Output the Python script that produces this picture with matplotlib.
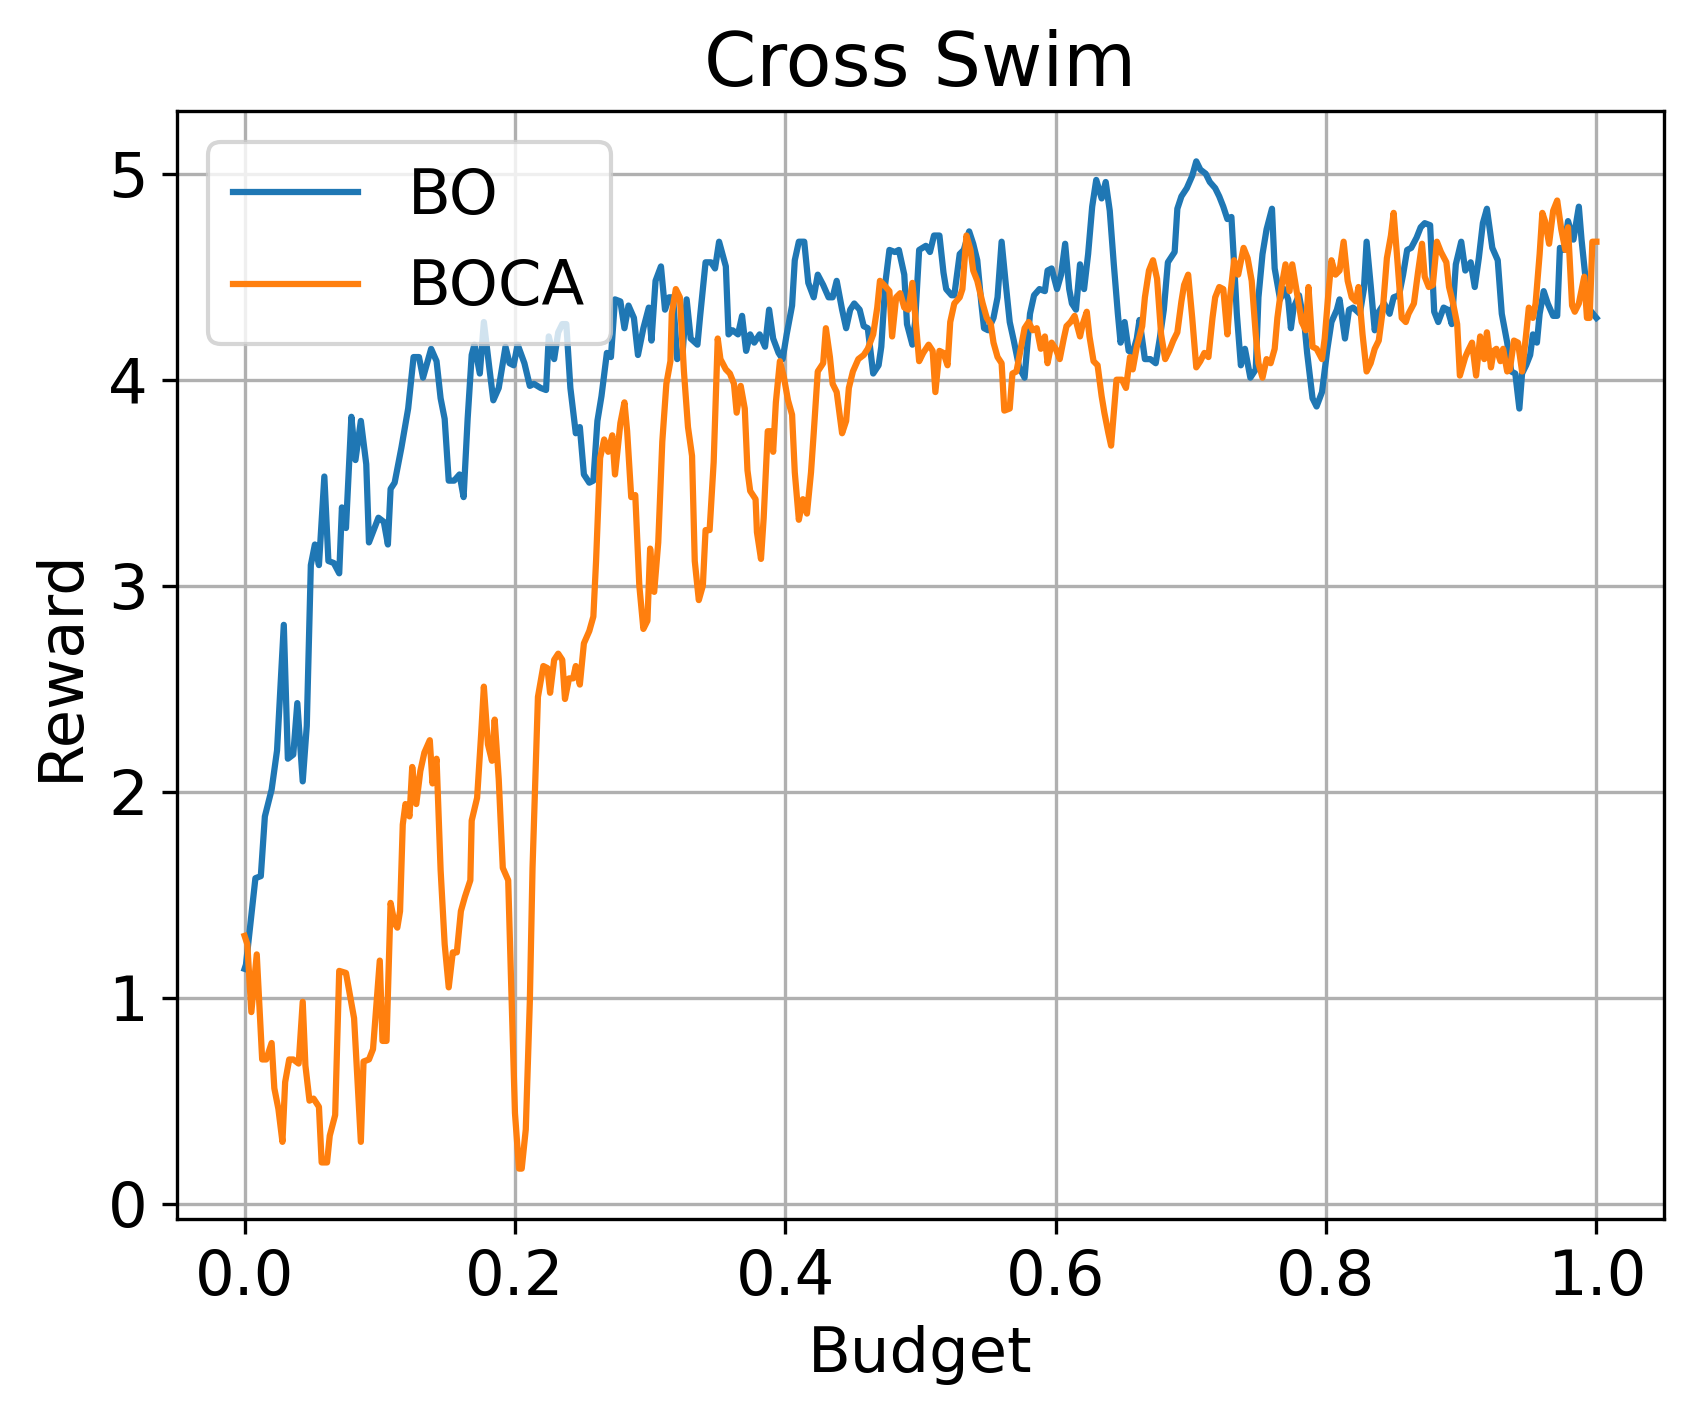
import matplotlib
matplotlib.use("Agg")
import matplotlib.pyplot as plt

plt.rcParams['font.size'] = 15

# BO curve (budget, reward)
bo_budget = [0.000, 0.001, 0.008, 0.012, 0.015, 0.020, 0.024, 0.029, 0.032, 0.036,
             0.039, 0.043, 0.046, 0.049, 0.052, 0.055, 0.059, 0.062, 0.066, 0.070,
             0.072, 0.075, 0.079, 0.082, 0.086, 0.090, 0.092, 0.099, 0.103, 0.106,
             0.108, 0.111, 0.116, 0.121, 0.125, 0.129, 0.132, 0.138, 0.142, 0.145,
             0.148, 0.151, 0.155, 0.159, 0.162, 0.165, 0.168, 0.170, 0.174, 0.177,
             0.181, 0.184, 0.188, 0.193, 0.196, 0.199, 0.202, 0.207, 0.211, 0.214,
             0.219, 0.223, 0.225, 0.229, 0.232, 0.235, 0.238, 0.241, 0.245, 0.248,
             0.251, 0.255, 0.258, 0.261, 0.264, 0.268, 0.271, 0.274, 0.278, 0.281,
             0.284, 0.288, 0.291, 0.295, 0.299, 0.301, 0.304, 0.308, 0.311, 0.314,
             0.317, 0.320, 0.324, 0.327, 0.330, 0.335, 0.337, 0.341, 0.345, 0.348,
             0.351, 0.356, 0.358, 0.361, 0.365, 0.368, 0.371, 0.374, 0.377, 0.381,
             0.385, 0.388, 0.391, 0.395, 0.398, 0.401, 0.405, 0.407, 0.410, 0.414,
             0.417, 0.421, 0.424, 0.428, 0.432, 0.435, 0.438, 0.442, 0.445, 0.448,
             0.451, 0.455, 0.458, 0.461, 0.465, 0.469, 0.471, 0.474, 0.477, 0.481,
             0.484, 0.488, 0.490, 0.494, 0.496, 0.499, 0.504, 0.507, 0.510, 0.514,
             0.517, 0.519, 0.523, 0.525, 0.529, 0.532, 0.536, 0.539, 0.542, 0.545,
             0.547, 0.550, 0.554, 0.557, 0.560, 0.563, 0.566, 0.569, 0.573, 0.577,
             0.581, 0.584, 0.588, 0.592, 0.594, 0.597, 0.601, 0.604, 0.607, 0.610,
             0.612, 0.615, 0.618, 0.621, 0.624, 0.627, 0.630, 0.634, 0.637, 0.640,
             0.643, 0.646, 0.648, 0.651, 0.654, 0.657, 0.660, 0.662, 0.666, 0.670,
             0.674, 0.677, 0.680, 0.683, 0.688, 0.690, 0.693, 0.697, 0.701, 0.704,
             0.707, 0.711, 0.714, 0.718, 0.721, 0.724, 0.727, 0.730, 0.732, 0.734,
             0.737, 0.740, 0.744, 0.748, 0.750, 0.753, 0.756, 0.760, 0.762, 0.766,
             0.769, 0.772, 0.774, 0.776, 0.780, 0.784, 0.786, 0.790, 0.793, 0.797,
             0.801, 0.804, 0.808, 0.810, 0.814, 0.817, 0.820, 0.825, 0.828, 0.830,
             0.833, 0.836, 0.839, 0.843, 0.847, 0.850, 0.854, 0.857, 0.860, 0.863,
             0.867, 0.870, 0.873, 0.877, 0.880, 0.883, 0.887, 0.890, 0.893, 0.896,
             0.900, 0.903, 0.907, 0.910, 0.913, 0.916, 0.919, 0.923, 0.927, 0.930,
             0.934, 0.937, 0.940, 0.943, 0.945, 0.948, 0.951, 0.953, 0.956, 0.958,
             0.961, 0.964, 0.968, 0.971, 0.973, 0.976, 0.979, 0.983, 0.987, 0.989,
             0.992, 0.995, 1.000]
bo_reward = [1.14, 1.16, 1.58, 1.59, 1.88, 2.01, 2.20, 2.81, 2.16, 2.18,
             2.43, 2.05, 2.32, 3.10, 3.20, 3.10, 3.53, 3.12, 3.11, 3.06,
             3.38, 3.28, 3.82, 3.61, 3.80, 3.59, 3.21, 3.33, 3.31, 3.20,
             3.47, 3.50, 3.67, 3.86, 4.11, 4.11, 4.01, 4.15, 4.09, 3.91,
             3.81, 3.51, 3.51, 3.54, 3.43, 3.81, 4.12, 4.17, 4.03, 4.28,
             4.06, 3.90, 3.96, 4.16, 4.08, 4.07, 4.17, 4.08, 3.97, 3.98,
             3.96, 3.95, 4.21, 4.10, 4.23, 4.27, 4.27, 3.96, 3.74, 3.77,
             3.54, 3.50, 3.51, 3.80, 3.92, 4.13, 4.11, 4.39, 4.38, 4.25,
             4.36, 4.30, 4.12, 4.25, 4.35, 4.19, 4.48, 4.55, 4.34, 4.40,
             4.40, 4.10, 4.13, 4.39, 4.20, 4.17, 4.31, 4.57, 4.57, 4.54,
             4.67, 4.55, 4.22, 4.24, 4.22, 4.31, 4.14, 4.22, 4.18, 4.22,
             4.16, 4.34, 4.20, 4.13, 4.10, 4.22, 4.36, 4.58, 4.67, 4.67,
             4.47, 4.40, 4.51, 4.46, 4.40, 4.40, 4.48, 4.34, 4.25, 4.34,
             4.37, 4.34, 4.26, 4.25, 4.03, 4.07, 4.16, 4.47, 4.63, 4.62,
             4.63, 4.51, 4.27, 4.17, 4.28, 4.63, 4.65, 4.62, 4.70, 4.70,
             4.52, 4.44, 4.41, 4.41, 4.61, 4.63, 4.72, 4.66, 4.58, 4.37,
             4.25, 4.24, 4.30, 4.40, 4.67, 4.47, 4.28, 4.19, 4.06, 4.01,
             4.32, 4.41, 4.44, 4.43, 4.53, 4.54, 4.44, 4.51, 4.66, 4.44,
             4.37, 4.34, 4.56, 4.44, 4.61, 4.84, 4.97, 4.88, 4.96, 4.82,
             4.56, 4.32, 4.18, 4.28, 4.14, 4.13, 4.20, 4.29, 4.10, 4.10,
             4.08, 4.20, 4.34, 4.57, 4.62, 4.83, 4.89, 4.93, 4.99, 5.06,
             5.02, 5.00, 4.96, 4.93, 4.89, 4.84, 4.78, 4.79, 4.56, 4.32,
             4.07, 4.15, 4.01, 4.05, 4.40, 4.61, 4.73, 4.83, 4.54, 4.39,
             4.44, 4.39, 4.25, 4.35, 4.41, 4.27, 4.13, 3.91, 3.87, 3.94,
             4.15, 4.28, 4.34, 4.39, 4.20, 4.34, 4.35, 4.32, 4.44, 4.67,
             4.46, 4.24, 4.33, 4.37, 4.32, 4.40, 4.41, 4.51, 4.63, 4.64,
             4.69, 4.74, 4.76, 4.75, 4.33, 4.28, 4.35, 4.34, 4.27, 4.56,
             4.67, 4.53, 4.57, 4.45, 4.59, 4.76, 4.83, 4.64, 4.58, 4.32,
             4.18, 4.04, 4.03, 3.86, 4.03, 4.07, 4.12, 4.22, 4.18, 4.32,
             4.43, 4.37, 4.31, 4.31, 4.64, 4.63, 4.77, 4.68, 4.84, 4.68,
             4.49, 4.34, 4.30]

# BOCA curve (budget, reward)
boca_budget = [0.000, 0.002, 0.005, 0.009, 0.013, 0.016, 0.020, 0.022, 0.025, 0.028,
               0.030, 0.033, 0.036, 0.040, 0.043, 0.045, 0.048, 0.051, 0.055, 0.057,
               0.061, 0.063, 0.067, 0.070, 0.075, 0.078, 0.081, 0.086, 0.088, 0.092,
               0.095, 0.100, 0.102, 0.105, 0.108, 0.111, 0.113, 0.115, 0.117, 0.119,
               0.122, 0.124, 0.127, 0.130, 0.133, 0.137, 0.139, 0.142, 0.145, 0.148,
               0.151, 0.154, 0.157, 0.160, 0.163, 0.167, 0.168, 0.172, 0.175, 0.177,
               0.180, 0.183, 0.185, 0.188, 0.191, 0.195, 0.197, 0.200, 0.203, 0.205,
               0.208, 0.211, 0.213, 0.217, 0.221, 0.224, 0.226, 0.229, 0.232, 0.235,
               0.237, 0.240, 0.243, 0.245, 0.248, 0.251, 0.255, 0.258, 0.260, 0.263,
               0.266, 0.269, 0.272, 0.274, 0.278, 0.281, 0.283, 0.286, 0.289, 0.292,
               0.295, 0.298, 0.300, 0.303, 0.306, 0.309, 0.312, 0.315, 0.316, 0.319,
               0.322, 0.325, 0.328, 0.331, 0.333, 0.336, 0.339, 0.341, 0.344, 0.347,
               0.350, 0.352, 0.356, 0.359, 0.362, 0.364, 0.367, 0.370, 0.372, 0.374,
               0.378, 0.379, 0.382, 0.384, 0.387, 0.389, 0.391, 0.393, 0.396, 0.399,
               0.402, 0.405, 0.407, 0.410, 0.413, 0.416, 0.419, 0.421, 0.424, 0.428,
               0.430, 0.433, 0.435, 0.438, 0.442, 0.445, 0.447, 0.450, 0.454, 0.458,
               0.461, 0.465, 0.468, 0.470, 0.473, 0.477, 0.479, 0.482, 0.485, 0.488,
               0.491, 0.494, 0.496, 0.499, 0.502, 0.506, 0.509, 0.511, 0.514, 0.517,
               0.520, 0.522, 0.525, 0.529, 0.531, 0.534, 0.537, 0.539, 0.542, 0.546,
               0.549, 0.552, 0.554, 0.557, 0.560, 0.562, 0.566, 0.568, 0.571, 0.575,
               0.577, 0.580, 0.583, 0.586, 0.589, 0.592, 0.594, 0.597, 0.600, 0.603,
               0.606, 0.608, 0.611, 0.614, 0.618, 0.620, 0.623, 0.625, 0.628, 0.631,
               0.634, 0.636, 0.639, 0.641, 0.643, 0.645, 0.649, 0.652, 0.655, 0.657,
               0.660, 0.664, 0.666, 0.669, 0.672, 0.675, 0.678, 0.681, 0.684, 0.687,
               0.690, 0.693, 0.695, 0.698, 0.701, 0.704, 0.707, 0.710, 0.713, 0.716,
               0.718, 0.721, 0.724, 0.727, 0.729, 0.732, 0.735, 0.739, 0.742, 0.745,
               0.748, 0.750, 0.753, 0.756, 0.759, 0.762, 0.764, 0.767, 0.770, 0.773,
               0.775, 0.779, 0.782, 0.785, 0.787, 0.790, 0.793, 0.797, 0.799, 0.802,
               0.804, 0.807, 0.810, 0.813, 0.816, 0.819, 0.822, 0.824, 0.827, 0.830,
               0.833, 0.836, 0.839, 0.842, 0.845, 0.848, 0.850, 0.853, 0.856, 0.859,
               0.861, 0.865, 0.868, 0.871, 0.873, 0.876, 0.879, 0.882, 0.885, 0.889,
               0.891, 0.894, 0.897, 0.899, 0.903, 0.905, 0.908, 0.911, 0.914, 0.917,
               0.919, 0.922, 0.924, 0.926, 0.929, 0.931, 0.934, 0.936, 0.939, 0.942,
               0.945, 0.948, 0.950, 0.953, 0.955, 0.958, 0.960, 0.962, 0.965, 0.968,
               0.971, 0.974, 0.977, 0.979, 0.982, 0.984, 0.987, 0.991, 0.993, 0.995,
               0.997, 1.000]
boca_reward = [1.30, 1.26, 0.93, 1.21, 0.70, 0.70, 0.78, 0.56, 0.46, 0.30,
               0.59, 0.70, 0.70, 0.68, 0.98, 0.67, 0.50, 0.51, 0.47, 0.20,
               0.20, 0.33, 0.43, 1.13, 1.12, 1.01, 0.90, 0.30, 0.69, 0.70,
               0.75, 1.18, 0.79, 0.79, 1.46, 1.36, 1.34, 1.42, 1.84, 1.94,
               1.88, 2.12, 1.94, 2.10, 2.19, 2.25, 2.04, 2.16, 1.62, 1.26,
               1.05, 1.22, 1.22, 1.42, 1.49, 1.57, 1.86, 1.97, 2.28, 2.51,
               2.23, 2.15, 2.35, 2.06, 1.63, 1.57, 1.11, 0.44, 0.17, 0.17,
               0.36, 0.98, 1.63, 2.46, 2.61, 2.60, 2.48, 2.64, 2.67, 2.64,
               2.45, 2.55, 2.55, 2.61, 2.52, 2.72, 2.78, 2.85, 3.12, 3.62,
               3.71, 3.65, 3.73, 3.54, 3.79, 3.89, 3.75, 3.43, 3.44, 3.00,
               2.79, 2.83, 3.18, 2.97, 3.21, 3.70, 3.98, 4.09, 4.32, 4.44,
               4.40, 4.04, 3.77, 3.63, 3.12, 2.93, 3.00, 3.27, 3.27, 3.60,
               4.20, 4.10, 4.05, 4.03, 3.98, 3.84, 3.97, 3.86, 3.56, 3.46,
               3.42, 3.26, 3.13, 3.33, 3.75, 3.75, 3.65, 3.89, 4.09, 4.01,
               3.90, 3.83, 3.55, 3.32, 3.42, 3.35, 3.55, 3.74, 4.04, 4.08,
               4.25, 4.11, 3.98, 3.94, 3.74, 3.80, 3.96, 4.04, 4.10, 4.12,
               4.15, 4.22, 4.35, 4.48, 4.46, 4.43, 4.21, 4.40, 4.42, 4.35,
               4.34, 4.47, 4.32, 4.09, 4.13, 4.17, 4.14, 3.94, 4.14, 4.13,
               4.07, 4.28, 4.37, 4.40, 4.44, 4.70, 4.63, 4.53, 4.48, 4.37,
               4.30, 4.27, 4.18, 4.11, 4.08, 3.85, 3.86, 4.03, 4.04, 4.18,
               4.25, 4.28, 4.24, 4.25, 4.15, 4.21, 4.08, 4.18, 4.15, 4.10,
               4.20, 4.26, 4.28, 4.31, 4.21, 4.27, 4.33, 4.21, 4.09, 4.07,
               3.92, 3.84, 3.74, 3.68, 3.84, 4.00, 4.00, 3.96, 4.11, 4.05,
               4.16, 4.26, 4.40, 4.53, 4.58, 4.49, 4.22, 4.10, 4.14, 4.19,
               4.23, 4.38, 4.46, 4.51, 4.30, 4.06, 4.09, 4.13, 4.11, 4.30,
               4.40, 4.45, 4.44, 4.22, 4.40, 4.58, 4.51, 4.64, 4.59, 4.48,
               4.22, 4.08, 4.01, 4.10, 4.08, 4.15, 4.30, 4.45, 4.56, 4.43,
               4.56, 4.40, 4.28, 4.24, 4.45, 4.16, 4.15, 4.10, 4.20, 4.44,
               4.58, 4.51, 4.53, 4.67, 4.48, 4.40, 4.38, 4.45, 4.22, 4.04,
               4.08, 4.15, 4.19, 4.34, 4.59, 4.70, 4.81, 4.56, 4.30, 4.28,
               4.32, 4.37, 4.52, 4.66, 4.50, 4.45, 4.46, 4.67, 4.62, 4.57,
               4.45, 4.37, 4.27, 4.02, 4.11, 4.14, 4.18, 4.02, 4.21, 4.10,
               4.23, 4.06, 4.14, 4.15, 4.09, 4.15, 4.04, 4.05, 4.19, 4.18,
               4.04, 4.22, 4.35, 4.30, 4.37, 4.61, 4.81, 4.77, 4.66, 4.82,
               4.87, 4.73, 4.63, 4.74, 4.36, 4.33, 4.37, 4.50, 4.30, 4.30,
               4.67, 4.67]

W, H, DPI = 1693, 1416, 300
fig = plt.figure(figsize=(W / DPI, H / DPI), dpi=DPI)
ax = fig.add_axes([177 / W, (H - 1219) / H, (1664 - 177) / W, (1219 - 111) / H])

ax.plot(bo_budget, bo_reward, label='BO')
ax.plot(boca_budget, boca_reward, label='BOCA')
ax.set_title('Cross Swim')
ax.set_xlabel('Budget')
ax.set_ylabel('Reward')
ax.grid(True)
ax.legend(loc='upper left')

fig.savefig('out.png', dpi=DPI)
